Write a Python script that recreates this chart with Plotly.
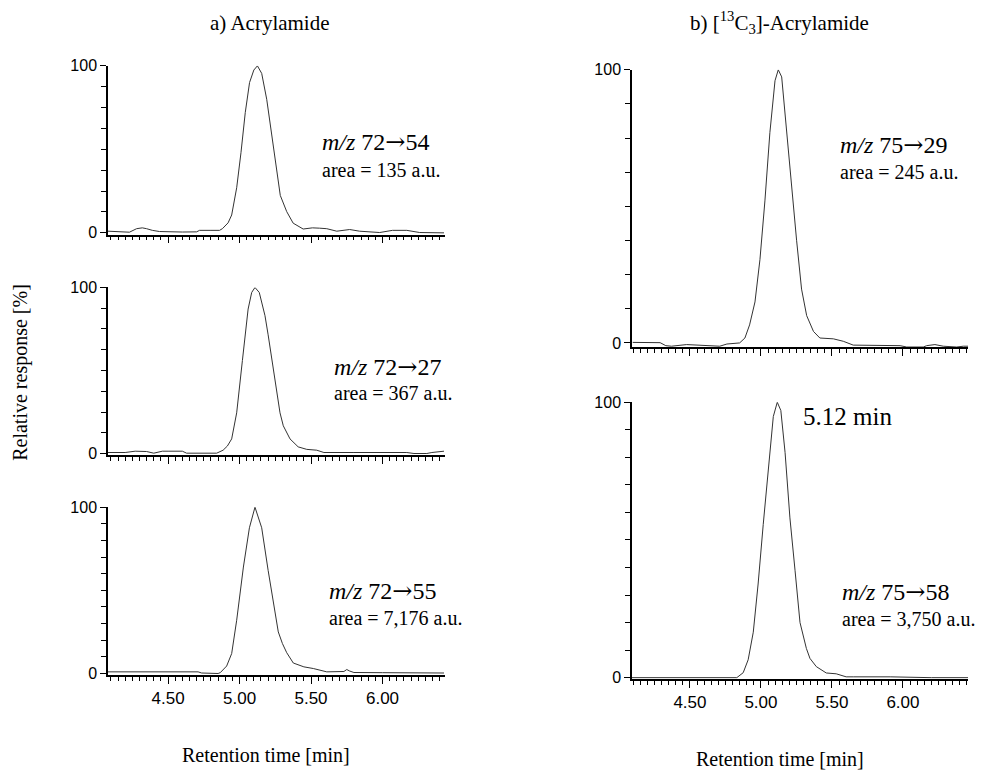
import plotly.graph_objects as go

# ---------------- data ----------------
t_72_54 = [4.08, 4.15, 4.23, 4.28, 4.32, 4.35, 4.39, 4.44, 4.51, 4.60, 4.70, 4.72, 4.80, 4.86, 4.88, 4.92,
           4.945, 4.98, 5.01, 5.04, 5.07, 5.10, 5.125, 5.155, 5.19, 5.225, 5.26, 5.285, 5.33, 5.375, 5.445,
           5.51, 5.56, 5.61, 5.68, 5.77, 5.84, 5.98, 6.07, 6.17, 6.26, 6.34, 6.43]
y_72_54 = [1.0, 0.8, 0.4, 2.5, 3.0, 2.5, 1.5, 0.8, 0.5, 0.5, 0.6, 1.5, 1.5, 1.5, 2.5, 6.0,
           10.7, 27, 48, 72, 90, 97.5, 100, 95.5, 80, 58.5, 35, 22.4, 12.7, 5.8, 2.3,
           3.0, 2.8, 2.5, 1.0, 2.0, 1.0, 0.2, 1.5, 1.5, 0.2, 0.2, 0.0]

t_72_27 = [4.08, 4.20, 4.27, 4.30, 4.35, 4.40, 4.46, 4.50, 4.60, 4.63, 4.75, 4.84, 4.885, 4.915, 4.945,
           4.98, 5.02, 5.06, 5.085, 5.108, 5.138, 5.178, 5.20, 5.237, 5.283, 5.306, 5.353, 5.41, 5.47,
           5.54, 5.59, 5.80, 6.00, 6.17, 6.22, 6.31, 6.345, 6.43]
y_72_27 = [0.6, 0.6, 1.4, 1.4, 1.2, 0.2, 1.4, 1.4, 1.4, 0.2, 0.2, 0.2, 2.0, 4.5, 8.8,
           24.5, 56, 87, 97, 100, 97, 83, 71.5, 50, 24.5, 16.7, 8.8, 4.0, 2.5,
           2.0, 0.6, 0.6, 0.6, 0.6, 0.0, 0.0, 0.6, 1.4]

t_72_55 = [4.08, 4.30, 4.50, 4.71, 4.735, 4.80, 4.85, 4.865, 4.91, 4.945, 4.98, 5.027, 5.069, 5.108,
           5.155, 5.20, 5.237, 5.271, 5.30, 5.33, 5.376, 5.45, 5.516, 5.61, 5.73, 5.75, 5.77, 5.80,
           6.00, 6.20, 6.43]
y_72_55 = [1.0, 1.0, 1.0, 1.0, 0.3, 0.0, 0.0, 0.5, 4.5, 12, 32, 64, 87.6, 100,
           87.6, 62, 42.5, 25, 18, 12.5, 6.3, 4.0, 3.0, 1.0, 1.2, 2.4, 1.5, 0.6,
           0.5, 0.4, 0.3]

t_75_29 = [4.097, 4.20, 4.29, 4.33, 4.37, 4.477, 4.57, 4.71, 4.76, 4.85, 4.887, 4.92, 4.958, 4.993,
           5.028, 5.063, 5.099, 5.122, 5.146, 5.18, 5.216, 5.251, 5.286, 5.322, 5.37, 5.415, 5.51,
           5.58, 5.65, 5.98, 6.026, 6.143, 6.167, 6.225, 6.284, 6.378, 6.425, 6.458]
y_75_29 = [0.2, 0.2, 0.1, -1.0, -1.2, -0.6, -0.8, -1.2, -0.4, 0.0, 1.8, 6.6, 15, 30.5,
           52, 77, 96, 100, 97.4, 78, 55.6, 37.6, 19.7, 10, 4.2, 1.8, 1.5,
           0.6, -0.8, -1.0, -1.5, -1.5, -1.0, -0.6, -1.2, -1.5, -1.2, -1.2]

t_75_58 = [4.092, 4.50, 4.83, 4.875, 4.91, 4.946, 4.98, 5.016, 5.05, 5.087, 5.115, 5.14, 5.17, 5.204,
           5.24, 5.275, 5.32, 5.345, 5.39, 5.46, 5.53, 5.60, 5.65, 5.91, 6.20, 6.458]
y_75_58 = [0.0, 0.0, 0.0, 1.8, 6.5, 16.5, 34, 55.6, 75.8, 94.8, 100, 97, 81.7, 58,
           39, 20, 10.6, 7.0, 4.0, 1.7, 1.4, 0.3, 0.3, 0.3, 0.0, 0.0]

x_tick_vals = [4.50, 5.00, 5.50, 6.00]
x_tick_text = ["4.50", "5.00", "5.50", "6.00"]
y_tick_vals = [0, 100]
y_tick_text = ["0", "100"]

W, H = 986, 775

def px_x(p):
    return p / W

def px_y(p):
    return 1 - p / H

# panel geometry (pixels): x-left, x-right, y-top(100), y-bottom(axis line)
panels = [
    dict(x=(108, 445), y=(59, 231), yr=(-1.0, 100), xr=(4.080, 6.437), ydt=12.5, labels=False),
    dict(x=(108, 445), y=(285, 456), yr=(-1.0, 100), xr=(4.080, 6.437), ydt=12.5, labels=False),
    dict(x=(108, 445), y=(509, 680), yr=(-0.8, 100), xr=(4.080, 6.437), ydt=10, labels=True),
    dict(x=(632, 968), y=(63, 346), yr=(-1.6, 100), xr=(4.092, 6.458), ydt=12.5, labels=False),
    dict(x=(632, 968), y=(402, 684), yr=(-0.4, 100), xr=(4.092, 6.458), ydt=10, labels=True),
]
series = [(t_72_54, y_72_54), (t_72_27, y_72_27), (t_72_55, y_72_55),
          (t_75_29, y_75_29), (t_75_58, y_75_58)]

fig = go.Figure()
layout = {}
for i, (p, (tt, yy)) in enumerate(zip(panels, series), start=1):
    xa = "x" if i == 1 else f"x{i}"
    ya = "y" if i == 1 else f"y{i}"
    fig.add_trace(go.Scatter(x=tt, y=yy, mode="lines", xaxis=xa, yaxis=ya,
                             line=dict(color="#333333", width=1), showlegend=False,
                             hoverinfo="skip"))
    xkey = "xaxis" if i == 1 else f"xaxis{i}"
    ykey = "yaxis" if i == 1 else f"yaxis{i}"
    layout[xkey] = dict(
        domain=[px_x(p["x"][0]), px_x(p["x"][1])], range=list(p["xr"]), anchor=ya,
        showline=True, linecolor="black", linewidth=1.5, showgrid=False, zeroline=False,
        tickmode="array", tickvals=x_tick_vals, ticktext=x_tick_text,
        showticklabels=p["labels"],
        ticks="outside", ticklen=7, tickwidth=1, tickcolor="black",
        tickfont=dict(family="Liberation Sans, Arial", size=17, color="black"),
        minor=dict(dtick=0.05, tick0=4.0, ticks="outside", ticklen=4, tickcolor="black", tickwidth=1),
        fixedrange=True,
    )
    layout[ykey] = dict(
        domain=[px_y(p["y"][1]), px_y(p["y"][0])], range=list(p["yr"]), anchor=xa,
        showline=True, linecolor="black", linewidth=1.5, showgrid=False, zeroline=False,
        tickmode="array", tickvals=y_tick_vals, ticktext=y_tick_text,
        ticks="outside", ticklen=6, tickwidth=1, tickcolor="black",
        tickfont=dict(family="Liberation Sans, Arial", size=16, color="black"),
        minor=dict(dtick=p["ydt"], tick0=0, ticks="outside", ticklen=5, tickcolor="black", tickwidth=1),
        fixedrange=True,
    )

serif = "Liberation Serif, Times New Roman, serif"
ARROW = '<span style="font-family:DejaVu Serif">→</span>'
ann = []

def text(x, y, s, size, anchor="left"):
    ann.append(dict(x=px_x(x), y=px_y(y), xref="paper", yref="paper", text=s, showarrow=False,
                    xanchor=anchor, yanchor="middle", font=dict(family=serif, size=size, color="black")))

text(270, 15, "a) Acrylamide", 21, "center")
text(779, 15, "b) [<sup>13</sup>C<sub>3</sub>]-Acrylamide", 21, "center")
text(266, 762, "Retention time [min]", 20, "center")
text(780, 766, "Retention time [min]", 20, "center")
ann.append(dict(x=px_x(21), y=px_y(372), xref="paper", yref="paper", text="Relative response [%]",
                showarrow=False, textangle=-90, xanchor="center", yanchor="middle",
                font=dict(family=serif, size=20, color="black")))

text(320, 137, "<i>m/z</i> 72" + ARROW + "54", 24)
text(320, 165, "area = 135 a.u.", 20)
text(332, 366, "<i>m/z</i> 72" + ARROW + "27", 24)
text(332, 393, "area = 367 a.u.", 20)
text(327, 595, "<i>m/z</i> 72" + ARROW + "55", 24)
text(327, 622, "area = 7,176 a.u.", 20)
text(838, 140, "<i>m/z</i> 75" + ARROW + "29", 24)
text(838, 167, "area = 245 a.u.", 20)
text(801, 417, "5.12 min", 25)
text(840, 596, "<i>m/z</i> 75" + ARROW + "58", 24)
text(840, 623, "area = 3,750 a.u.", 20)

fig.update_layout(**layout)
fig.update_layout(width=W, height=H, autosize=False, margin=dict(l=0, r=0, t=0, b=0),
                  paper_bgcolor="white", plot_bgcolor="white", annotations=ann, showlegend=False)

fig.write_html("out.html", config={"displayModeBar": False})
